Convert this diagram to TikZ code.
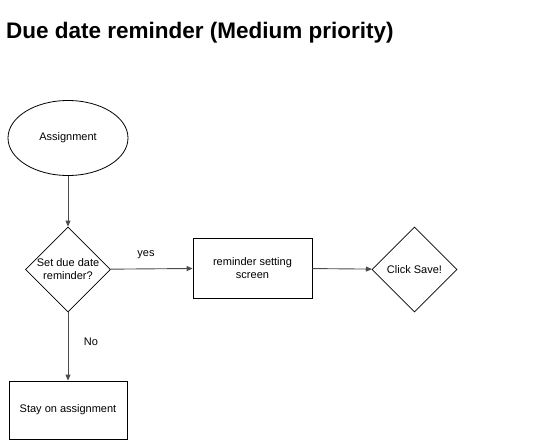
\documentclass[tikz,border=0pt]{standalone}
\usepackage{fontspec}
\setmainfont{Liberation Sans}
\usetikzlibrary{shapes.geometric,arrows.meta}
\begin{document}
\begin{tikzpicture}[x=1pt,y=-1pt,
  every node/.style={font=\fontsize{11}{13}\selectfont, inner sep=0pt, align=center},
  shp/.style={draw=black, line width=0.8pt, fill=white},
  conn/.style={draw=black!70, line width=0.9pt, -{Triangle[length=6pt,width=5pt]}},
  lbl/.style={font=\fontsize{11}{13}\selectfont}]
\useasboundingbox (0,0) rectangle (536,440);
\node[anchor=base west, font=\fontsize{22.5}{26}\selectfont\bfseries] (title) at (6,38) {Due date reminder (Medium priority)};
\node[shp, ellipse, minimum width=120pt, minimum height=75pt] (start) at (68,138) {Assignment};
\node[shp, diamond, minimum width=85pt, minimum height=85pt] (q) at (68,269.5) {Set due date\\reminder?};
\node[shp, rectangle, minimum width=119pt, minimum height=60pt] (rem) at (252.5,268) {reminder setting\\screen};
\node[shp, diamond, minimum width=85pt, minimum height=85pt] (save) at (414.5,269.5) {Click Save!};
\node[shp, rectangle, minimum width=118pt, minimum height=58pt] (stay) at (68,410) {Stay on assignment};
\draw[conn] (start) -- (q);
\draw[conn] (q) -- (rem);
\draw[conn] (rem) -- (save);
\draw[conn] (q) -- (stay);
\node[lbl] (yes) at (146,255) {yes};
\node[lbl] (no) at (91,342) {No};
\end{tikzpicture}
\end{document}
